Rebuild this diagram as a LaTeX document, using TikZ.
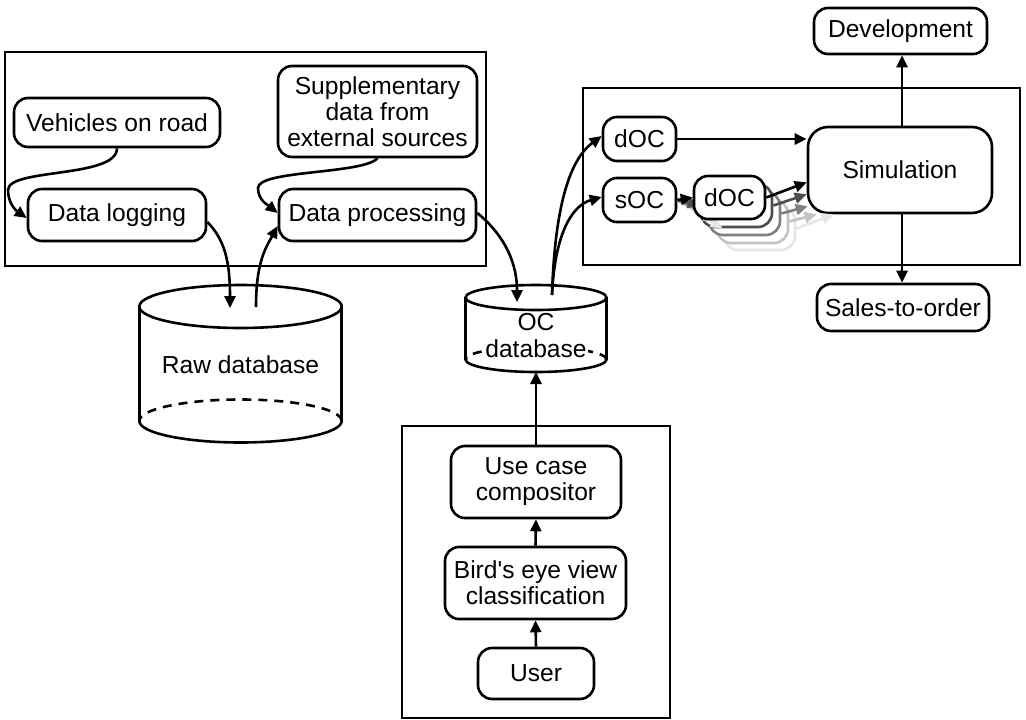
\documentclass[tikz,border=0pt]{standalone}
\usepackage{fontspec}
\setmainfont{Liberation Sans}
\usetikzlibrary{arrows.meta}

\definecolor{shadeA}{HTML}{4D4D4D}
\definecolor{shadeB}{HTML}{808080}
\definecolor{shadeC}{HTML}{C4C4C4}
\definecolor{shadeD}{HTML}{E6E6E6}

\tikzset{
  ln/.style={line width=2.6pt},
  frame/.style={draw, ln},
  box/.style={draw, ln, rounded corners=14pt, fill=white, inner sep=0pt, align=center},
  conn/.style={ln, -{Triangle[length=12pt,width=11pt]}},
  dbdash/.style={ln, dash pattern=on 9pt off 7pt},
}

\begin{document}
\begin{tikzpicture}[x=1pt, y=-1pt, font=\fontsize{24.6}{26}\selectfont]
\useasboundingbox (0,0) rectangle (1026,720);

% group frames
\draw[frame] (5,52) rectangle (486,266);
\draw[frame] (583,88) rectangle (1020,265);
\draw[frame] (402,426) rectangle (670,718);

% data acquisition group
\node[box, minimum width=206, minimum height=49] (veh) at (117,122.5) {Vehicles on road};
\node[box, minimum width=178, minimum height=52] (dlog) at (117,215) {Data logging};
\node[box, minimum width=199, minimum height=91] (supp) at (377.5,111.5) {Supplementary\\data from\\external sources};
\node[box, minimum width=197, minimum height=52] (dproc) at (377.5,215) {Data processing};

\coordinate (w1) at (8,190);
\coordinate (w2) at (258,188);
\draw[conn] (veh.south) .. controls +(0,30) and +(0,-22) .. (w1)
            .. controls +(0,14) and +(-10,-7) .. ([yshift=-3pt]dlog.west);
\draw[conn] (supp.south) .. controls +(-15,16) and +(0,-18) .. (w2)
            .. controls +(0,12) and +(-10,-8) .. ([yshift=2pt]dproc.west);

% raw database cylinder
\draw[ln] (240.5,306.5) ellipse [x radius=101.2pt, y radius=21.5pt];
\draw[ln] (139.3,306.5) -- (139.3,421) (341.7,306.5) -- (341.7,421);
\begin{scope}
  \clip (120,421) rectangle (360,452);
  \draw[ln] (240.5,421) ellipse [x radius=101.2pt, y radius=21.5pt];
\end{scope}
\begin{scope}
  \clip (120,421) rectangle (360,390);
  \draw[dbdash] (240.5,421) ellipse [x radius=101.2pt, y radius=21.5pt];
\end{scope}
\node (rawlbl) at (240.5,365) {Raw database};
\coordinate (rawin) at (230,308);
\coordinate (rawout) at (256,307);

% OC database cylinder
\draw[ln] (536,297.5) ellipse [x radius=70.5pt, y radius=12.5pt];
\draw[ln] (465.5,297.5) -- (465.5,359.5) (606.5,297.5) -- (606.5,359.5);
\begin{scope}
  \clip (450,359.5) rectangle (620,380);
  \draw[ln] (536,359.5) ellipse [x radius=70.5pt, y radius=12.5pt];
\end{scope}
\begin{scope}
  \clip (450,359.5) rectangle (620,340);
  \draw[dbdash] (536,359.5) ellipse [x radius=70.5pt, y radius=12.5pt];
\end{scope}
\node[anchor=base] (oclblA) at (536,330.5) {OC};
\node[anchor=base, fill=white, inner sep=1pt] (oclblB) at (536,357) {database};
\coordinate (ocin) at (517,302);
\coordinate (ocout) at (552,295);
\coordinate (ocbot) at (536,372);

% links through the databases
\draw[conn] ([yshift=-7pt]dlog.east) .. controls +(18,18) and +(0,-45) .. (rawin);
\draw[conn] (rawout) .. controls +(0,-45) and +(-12,22) .. ([yshift=-11pt]dproc.west);
\draw[conn] ([yshift=2pt]dproc.east) .. controls +(22,18) and +(0,-45) .. (ocin);

% use case group
\node[box, minimum width=170, minimum height=72] (ucc) at (536,482) {Use case\\compositor};
\node[box, minimum width=181, minimum height=72] (bev) at (535.5,583) {Bird\textquotesingle s eye view\\classification};
\node[box, minimum width=116, minimum height=51] (user) at (536,673.5) {User};
\draw[conn] (user.north) -- (bev.south);
\draw[conn] (bev.north) -- (ucc.south);
\draw[conn] (ucc.north) -- (ocbot);

% simulation group
\node[box, minimum width=73, minimum height=44] (doc1) at (639.5,139) {dOC};
\node[box, minimum width=73, minimum height=44] (soc) at (639.5,200) {sOC};
\node[box, minimum width=184, minimum height=86, rounded corners=20pt] (sim) at (900,170) {Simulation};

% stacked derived cases, back to front
\node[box, draw=shadeD, minimum width=71, minimum height=43] (docD) at (759.5,228.5) {};
\node[box, draw=shadeC, minimum width=71, minimum height=43] (docC) at (752.5,221.5) {};
\node[box, draw=shadeB, minimum width=71, minimum height=43] (docB) at (744.5,213.5) {};
\node[box, draw=shadeA, minimum width=71, minimum height=43] (docA) at (736.5,205.5) {};
\draw[conn, shadeD] (soc.east) -- (docD.west);
\draw[conn, shadeC] (soc.east) -- (docC.west);
\draw[conn, shadeB] (soc.east) -- (docB.west);
\draw[conn, shadeA] (soc.east) -- (docA.west);
\node[box, minimum width=71, minimum height=43] (docF) at (729.5,197.5) {dOC};
\draw[conn] (soc.east) -- (docF.west);

\draw[conn, shadeD] (docD.east) -- ([shift={(27,0)}]sim.south west);
\draw[conn, shadeC] (docC.east) -- ([shift={(10,0)}]sim.south west);
\draw[conn, shadeB] (docB.east) -- ([shift={(1,-8)}]sim.south west);
\draw[conn, shadeA] (docA.east) -- ([shift={(0,-20)}]sim.south west);
\draw[conn] (docF.east) -- ([shift={(0,-32)}]sim.south west);
\draw[conn] (doc1.east) -- (doc1.east -| sim.west);

\draw[conn] (ocout) .. controls +(3,-95) and +(-30,22) .. ([yshift=3pt]doc1.west);
\draw[conn] (ocout) .. controls +(3,-65) and +(-28,8) .. ([yshift=3pt]soc.west);

% outputs
\node[box, minimum width=173, minimum height=46] (dev) at (900.5,31) {Development};
\node[box, minimum width=172, minimum height=47] (sales) at (903,307.5) {Sales-to-order};
\draw[conn] ([xshift=2pt]sim.north) -- ([xshift=2pt]sim.north |- dev.south);
\draw[conn] ([xshift=2pt]sim.south) -- ([xshift=2pt]sim.south |- sales.north);

\end{tikzpicture}
\end{document}
